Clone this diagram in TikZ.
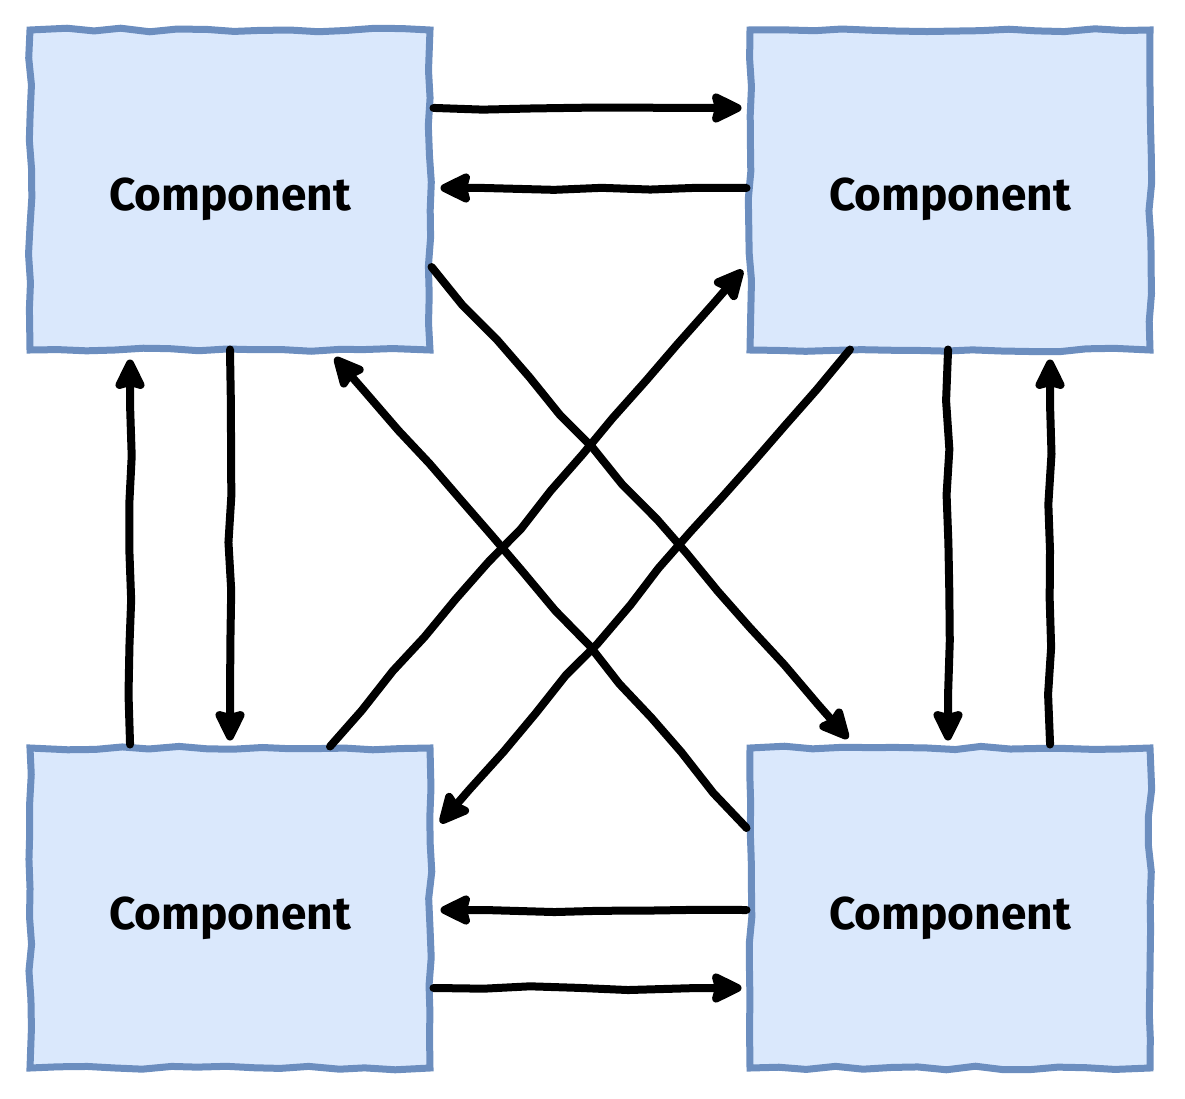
\documentclass[tikz,border=0pt]{standalone}
\usepackage{fontspec}
\setmainfont{Fira Sans}
\usetikzlibrary{arrows.meta,calc,decorations.pathmorphing}
\definecolor{boxfill}{HTML}{DAE8FC}
\definecolor{boxline}{HTML}{6C8EBF}
\begin{document}
\begin{tikzpicture}[x=1pt,y=-1pt,
  box/.style={draw=boxline,fill=boxfill,line width=7pt,minimum width=400pt,minimum height=320pt,
    inner sep=0pt,font=\fontsize{46}{56}\selectfont\bfseries,
    decorate,decoration={random steps,segment length=28pt,amplitude=1.8pt}},
  conn/.style={draw=black,line width=8pt,line cap=round,line join=round,
    -{Stealth[length=36pt,width=34pt,inset=4pt,round]},
    decorate,decoration={random steps,segment length=48pt,amplitude=2.2pt,post length=44pt,pre length=2pt}}]
\pgfmathsetseed{7}
\useasboundingbox (0,0) rectangle (1185,1099);
\node[box] (tl) at (230,190) {\raisebox{-21pt}[0pt][0pt]{Component}};
\node[box] (tr) at (950,190) {\raisebox{-21pt}[0pt][0pt]{Component}};
\node[box] (bl) at (230,908) {\raisebox{-21pt}[0pt][0pt]{Component}};
\node[box] (br) at (950,908) {\raisebox{-21pt}[0pt][0pt]{Component}};
% horizontal top
\coordinate (a1) at ($(tl.east)+(0,-82)$);
\coordinate (a2) at ($(tr.west)+(-5,-82)$);
\draw[conn] (a1) -- (a2);
\coordinate (b1) at ($(tr.west)+(0,-2)$);
\coordinate (b2) at ($(tl.east)+(7,-2)$);
\draw[conn] (b1) -- (b2);
% horizontal bottom
\coordinate (c1) at ($(br.west)+(0,2)$);
\coordinate (c2) at ($(bl.east)+(7,2)$);
\draw[conn] (c1) -- (c2);
\coordinate (d1) at ($(bl.east)+(0,80)$);
\coordinate (d2) at ($(br.west)+(-5,80)$);
\draw[conn] (d1) -- (d2);
% vertical left
\coordinate (e1) at ($(tl.south)+(0,-4)$);
\coordinate (e2) at ($(bl.north)+(0,-4)$);
\draw[conn] (e1) -- (e2);
\coordinate (f1) at ($(bl.north)+(-100,0)$);
\coordinate (f2) at ($(tl.south)+(-100,6)$);
\draw[conn] (f1) -- (f2);
% vertical right
\coordinate (g1) at ($(tr.south)+(-2,-4)$);
\coordinate (g2) at ($(br.north)+(-2,-4)$);
\draw[conn] (g1) -- (g2);
\coordinate (h1) at ($(br.north)+(100,0)$);
\coordinate (h2) at ($(tr.south)+(100,6)$);
\draw[conn] (h1) -- (h2);
% diagonals
\coordinate (i1) at ($(tl.east)+(-2,77)$);
\coordinate (i2) at ($(br.north)+(-102,-6)$);
\draw[conn] (i1) -- (i2);
\coordinate (j1) at ($(br.west)+(0,-80)$);
\coordinate (j2) at ($(tl.south)+(105,4)$);
\draw[conn] (j1) -- (j2);
\coordinate (k1) at ($(bl.north)+(100,2)$);
\coordinate (k2) at ($(tr.west)+(-4,80)$);
\draw[conn] (k1) -- (k2);
\coordinate (l1) at ($(tr.south)+(-100,-4)$);
\coordinate (l2) at ($(bl.east)+(7,-85)$);
\draw[conn] (l1) -- (l2);
\end{tikzpicture}
\end{document}
